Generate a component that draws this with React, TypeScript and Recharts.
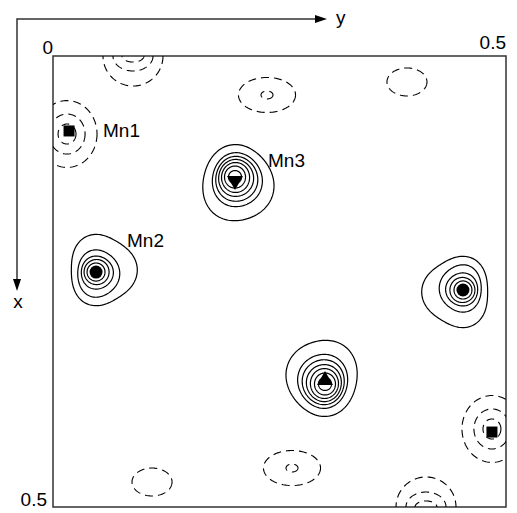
import React from 'react';
import { ScatterChart, Scatter, XAxis, YAxis, ReferenceArea } from 'recharts';

// Axis ticks (horizontal axis = y, vertical axis = x, both fractional coordinates)
const topTicks = [0, 0.5];
const sideTicks = [0.5];

// Atom sites [h (= y), v (= x)]
const squareSites = [
  { name: 'Mn1', h: 0.0177, v: 0.0831 },
  { name: 'Mn1*', h: 0.4845, v: 0.4169 },
];
const circleSites = [
  { name: 'Mn2', h: 0.0475, v: 0.2395 },
  { name: 'Mn2*', h: 0.4525, v: 0.2594 },
];
const triDownSites = [{ name: 'Mn3', h: 0.2009, v: 0.1386 }];
const triUpSites = [{ name: 'Mn3*', h: 0.3002, v: 0.3592 }];

// Site labels
const siteLabels = [
  { name: 'Mn1', h: 0.0552, v: 0.0898 },
  { name: 'Mn3', h: 0.2373, v: 0.1231 },
  { name: 'Mn2', h: 0.0817, v: 0.2118 },
];

// Positive (solid) density peaks: centre + rings [dx, dy, rx, ry, triangularity], phase of lobe (deg)
const mn3Rings = [
  [0.0028, 0.0028, 0.0392, 0.0421, 0.035],
  [0.0022, -0.0011, 0.0276, 0.0299, 0.02],
  [0.0017, -0.0022, 0.0232, 0.0249, 0.015],
  [0.0011, -0.0033, 0.0193, 0.0205, 0.01],
  [0.0006, -0.0039, 0.0155, 0.0166, 0],
  [0, -0.0044, 0.0116, 0.0122, 0],
  [0, -0.0044, 0.0072, 0.0072, 0],
];
const mn3bRings = [
  [-0.0028, -0.0028, 0.0392, 0.0421, 0.035],
  [-0.0022, 0.0011, 0.0276, 0.0299, 0.02],
  [-0.0017, 0.0022, 0.0232, 0.0249, 0.015],
  [-0.0011, 0.0033, 0.0193, 0.0205, 0.01],
  [-0.0006, 0.0039, 0.0155, 0.0166, 0],
  [0, 0.0044, 0.0116, 0.0122, 0],
  [0, 0.0044, 0.0072, 0.0072, 0],
];
const mn2Rings = [
  [0.0066, -0.0022, 0.0364, 0.0388, 0.07],
  [0.0022, 0.0017, 0.0232, 0.0261, 0.035],
  [0.0011, 0.0006, 0.0177, 0.0183, 0.02],
  [0.0006, 0, 0.0138, 0.0139, 0],
  [0, 0, 0.0099, 0.01, 0],
];
const mn2bRings = [
  [-0.0066, 0.0022, 0.0364, 0.0388, 0.07],
  [-0.0022, -0.0017, 0.0232, 0.0261, 0.035],
  [-0.0011, -0.0006, 0.0177, 0.0183, 0.02],
  [-0.0006, 0, 0.0138, 0.0139, 0],
  [0, 0, 0.0099, 0.01, 0],
];
const solidPeaks = [
  { h: 0.2009, v: 0.1386, phase: 135, rings: mn3Rings },
  { h: 0.3002, v: 0.3592, phase: 315, rings: mn3bRings },
  { h: 0.0475, v: 0.2395, phase: 0, rings: mn2Rings },
  { h: 0.4525, v: 0.2594, phase: 180, rings: mn2bRings },
];

// Negative (dashed) density troughs: centre + rings [rx, ry]
const mn1Rings = [[0.0331, 0.0371], [0.0199, 0.0222], [0.0099, 0.0111]];
const edgeRings = [[0.0331, 0.0333], [0.0221, 0.0166], [0.0121, 0.0067]];
const midRings = [[0.0315, 0.0194], [0.0066, 0.0044]];
const smallRings = [[0.0221, 0.0155]];
const dashedPeaks = [
  { h: 0.0155, v: 0.0865, rings: mn1Rings },
  { h: 0.4845, v: 0.4135, rings: mn1Rings },
  { h: 0.0883, v: 0.0, rings: edgeRings },
  { h: 0.4117, v: 0.5, rings: edgeRings },
  { h: 0.2362, v: 0.0432, rings: midRings },
  { h: 0.2638, v: 0.4568, rings: midRings },
  { h: 0.3907, v: 0.0288, rings: smallRings },
  { h: 0.1093, v: 0.4723, rings: smallRings },
];

function ringOutline(ch: number, cv: number, dx: number, dy: number, rx: number, ry: number, a: number, phaseDeg: number) {
  const pts: { h: number; v: number }[] = [];
  const N = 120;
  const ph = (phaseDeg * Math.PI) / 180;
  for (let i = 0; i <= N; i++) {
    const t = (i / N) * 2 * Math.PI;
    const r = 1 + a * Math.cos(3 * (t - ph));
    pts.push({ h: ch + dx + rx * r * Math.cos(t), v: cv + dy + ry * r * Math.sin(t) });
  }
  return pts;
}

const FONT = '"Liberation Sans", Arial, Helvetica, sans-serif';
const none = () => <g />;

const SquareMark = (p: any) => <rect x={p.cx - 5.5} y={p.cy - 5.5} width={11} height={11} fill="#000" />;
const CircleMark = (p: any) => <circle cx={p.cx} cy={p.cy} r={6.5} fill="#000" />;
const TriDownMark = (p: any) => (
  <polygon points={`${p.cx - 8},${p.cy - 5} ${p.cx + 8},${p.cy - 5} ${p.cx},${p.cy + 9}`} fill="#000" />
);
const TriUpMark = (p: any) => (
  <polygon points={`${p.cx - 8},${p.cy + 5} ${p.cx + 8},${p.cy + 5} ${p.cx},${p.cy - 9}`} fill="#000" />
);
const LabelMark = (p: any) => (
  <text x={p.cx} y={p.cy} fontSize={19} fontFamily={FONT} fill="#000">
    {p.payload?.name}
  </text>
);

const TopTick = (p: any) => {
  const val = p.payload?.value;
  return (
    <text x={p.x} y={val === 0 ? 54 : 49} textAnchor="end" fontSize={19} fontFamily={FONT} fill="#000">
      {String(val)}
    </text>
  );
};
const SideTick = (p: any) => (
  <text x={47} y={p.y - 1} textAnchor="end" fontSize={19} fontFamily={FONT} fill="#000">
    {String(p.payload?.value)}
  </text>
);

export default function App() {
  const series: React.ReactNode[] = [];
  dashedPeaks.forEach((pk, i) =>
    pk.rings.forEach((rg, j) => {
      series.push(
        <Scatter
          key={`d-${i}-${j}`}
          data={ringOutline(pk.h, pk.v, 0, 0, rg[0], rg[1], 0, 0)}
          shape={none}
          line={{ stroke: '#000', strokeWidth: 1.1, strokeDasharray: '8 5', fill: 'none' }}
          lineType="joint"
          isAnimationActive={false}
        />
      );
    })
  );
  solidPeaks.forEach((pk, i) =>
    pk.rings.forEach((rg, j) => {
      series.push(
        <Scatter
          key={`s-${i}-${j}`}
          data={ringOutline(pk.h, pk.v, rg[0], rg[1], rg[2], rg[3], rg[4], pk.phase)}
          shape={none}
          line={{ stroke: '#000', strokeWidth: 1.2, fill: 'none' }}
          lineType="joint"
          isAnimationActive={false}
        />
      );
    })
  );

  return (
    <div style={{ position: 'absolute', left: 0, top: 0, width: 517, height: 513, background: '#fff' }}>
      <ScatterChart width={517} height={513} margin={{ top: 30, right: 11, bottom: 6, left: 23 }}>
        <XAxis
          type="number"
          dataKey="h"
          domain={[0, 0.5]}
          allowDataOverflow
          orientation="top"
          ticks={topTicks}
          interval={0}
          height={26}
          axisLine={false}
          tickLine={false}
          tick={TopTick}
        />
        <YAxis
          type="number"
          dataKey="v"
          domain={[0, 0.5]}
          reversed
          allowDataOverflow
          ticks={sideTicks}
          interval={0}
          width={30}
          axisLine={false}
          tickLine={false}
          tick={SideTick}
        />
        {series}
        <Scatter data={squareSites} shape={SquareMark} isAnimationActive={false} />
        <Scatter data={circleSites} shape={CircleMark} isAnimationActive={false} />
        <Scatter data={triDownSites} shape={TriDownMark} isAnimationActive={false} />
        <Scatter data={triUpSites} shape={TriUpMark} isAnimationActive={false} />
        <Scatter data={siteLabels} shape={LabelMark} isAnimationActive={false} />
        <ReferenceArea x1={0} x2={0.5} y1={0} y2={0.5} fill="none" stroke="#333" strokeWidth={1.5} ifOverflow="visible" />
      </ScatterChart>
      <svg width={517} height={513} style={{ position: 'absolute', left: 0, top: 0, pointerEvents: 'none' }}>
        <polyline points="17,280 17,19 316,19" fill="none" stroke="#333" strokeWidth={1.5} />
        <polygon points="315,15 327,19 315,23" fill="#000" />
        <polygon points="13,279 17,291 21,279" fill="#000" />
        <text x={336} y={24} fontSize={19} fontFamily={FONT} fill="#000">y</text>
        <text x={18} y={308} textAnchor="middle" fontSize={19} fontFamily={FONT} fill="#000">x</text>
      </svg>
    </div>
  );
}
